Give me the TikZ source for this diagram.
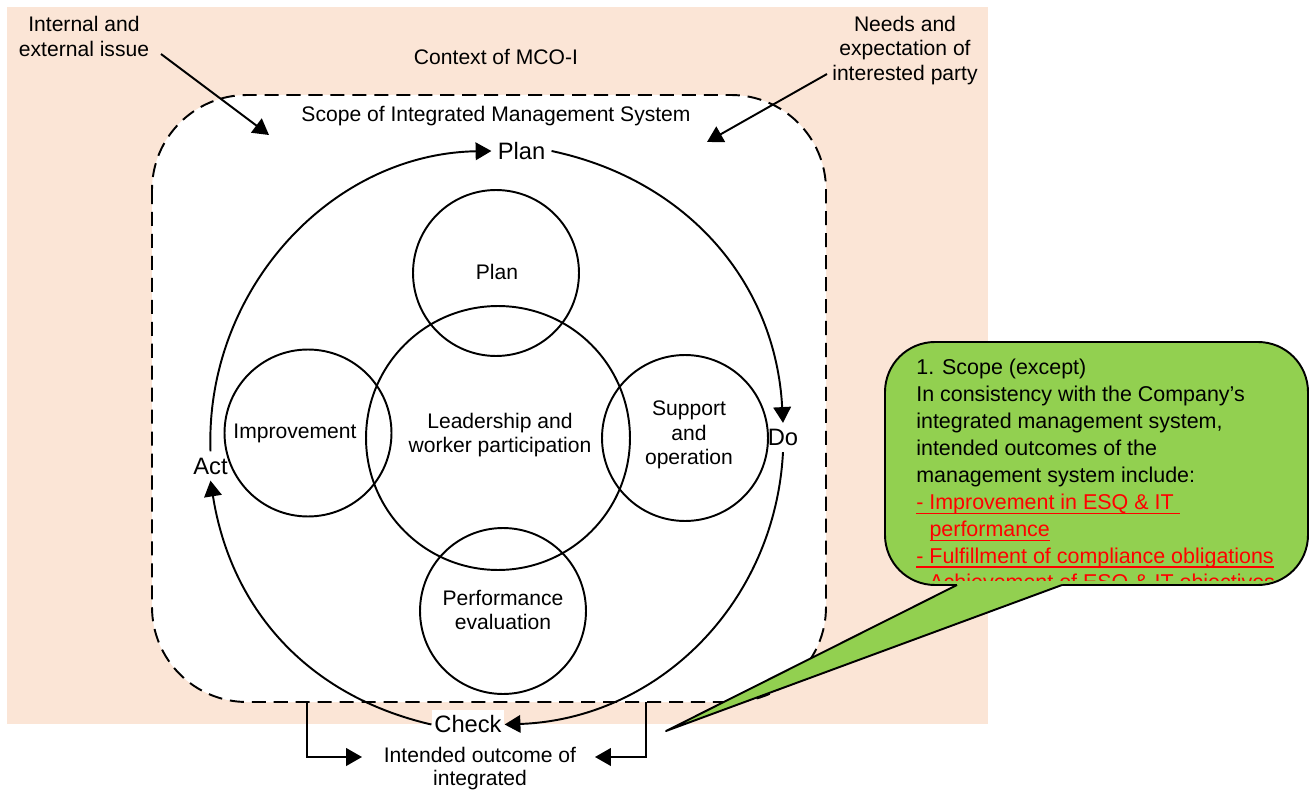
\documentclass[tikz,border=0pt]{standalone}
\usepackage{fontspec}
\setmainfont{Liberation Sans}
\usetikzlibrary{arrows.meta}
\definecolor{peach}{HTML}{FBE5D6}
\definecolor{callgreen}{HTML}{92D050}
\newcommand{\redul}[1]{\setbox0\hbox{#1}\rlap{\rule[-2.8pt]{\wd0}{0.9pt}}\box0}
\begin{document}
\begin{tikzpicture}[x=0.02cm,y=-0.02cm,
  lw/.style={line width=1.1pt},
  ring/.style={draw, circle, line width=1.1pt, inner sep=0pt},
  lbl/.style={font=\fontsize{12}{14}\selectfont, align=center, inner sep=0pt},
  pdca/.style={font=\fontsize{13.5}{15}\selectfont, inner sep=3.4pt},
  arr/.style={line width=1.1pt, -{Triangle[length=9pt,width=10pt]}},
]
\useasboundingbox (0,0) rectangle (1313,794);
% background context
\fill[peach] (7,7) rectangle (988,724);
% scope boundary
\draw[lw, dash pattern=on 8pt off 4.5pt, fill=white, rounded corners=1.9cm] (152,95) rectangle (826,702);

% texts at top
\node[lbl] (intL) at (84,36.5) {Internal and\\external issue};
\node[lbl] (ctxL) at (496,57) {Context of MCO-I};
\node[lbl] (needL) at (905,50.5) {Needs and\\expectation of\\interested party};
\node[lbl] (scopeL) at (496,116) {Scope of Integrated Management System};

% circles
\node[ring, minimum size=3.32cm] (cPlan) at (496,273) {};
\node[ring, minimum size=5.28cm] (cLead) at (498,438) {};
\node[ring, minimum size=3.34cm] (cImp) at (308,433) {};
\node[ring, minimum size=3.32cm] (cSup) at (685,438) {};
\node[ring, minimum size=3.32cm] (cPerf) at (503,611) {};

\node[lbl] (tPlan) at (497,272) {Plan};
\node[lbl] (tLead) at (500,435) {Leadership and\\worker participation};
\node[lbl] (tImp) at (295,433) {Improvement};
\node[lbl] (tSup) at (689,435) {Support\\and\\operation};
\node[lbl] (tPerf) at (503,610) {Performance\\evaluation};

% PDCA labels
\node[pdca] (planL) at (521.5,151) {Plan};
\node[pdca] (doL) at (783,437.5) {Do};
\node[pdca, fill=white, inner xsep=1.5pt, inner ysep=3.4pt] (checkL) at (468,724.5) {Check};
\node[pdca] (actL) at (210.5,466) {Act};

% cycle arcs
\draw[arr] (actL.north) to[out=92,in=181] (planL.west);
\draw[arr] (planL.east) to[out=-12,in=93] (doL.north);
\draw[arr] (doL.south) to[out=-93,in=2] (checkL.east);
\draw[arr] (checkL.west) to[out=167,in=-81] (actL.south);

% context arrows
\coordinate (intS) at (161,54);
\coordinate (intE) at (269,135);
\coordinate (needS) at (827,74);
\coordinate (needE) at (707,142);
\draw[arr] (intS) -- (intE);
\draw[arr] (needS) -- (needE);

% intended outcome
\node[lbl, font=\fontsize{12}{13.3}\selectfont] (outL) at (480,768.5) {Intended outcome of\\integrated};
\coordinate (bl) at (307,702);
\coordinate (br) at (646,702);
\coordinate (ltip) at (362,757);
\coordinate (rtip) at (595,757);
\draw[arr] (bl) |- (ltip);
\draw[arr] (br) |- (rtip);

% callout
\draw[lw, fill=callgreen, rounded corners=1cm] (885,342) rectangle (1308,585);
\fill[callgreen] (957,582) -- (957,585) -- (666,731) -- (1062,585) -- (1062,582) -- cycle;
\draw[lw, line join=round] (957,585) -- (666,731) -- (1062,585);
\begin{scope}
\clip (885,342) rectangle (1308,580);
\node[anchor=north west, inner sep=0pt, align=left, font=\fontsize{12.2}{15.3}\selectfont] (scopeTxt) at (916,359)
{1. Scope (except)\\
In consistency with the Company’s\\
integrated management system,\\
intended outcomes of the\\
management system include:\\
{\color{red}\redul{- Improvement in ESQ \& IT\ }}\\
{\color{red}\hspace*{7.5pt}\redul{performance}}\\
{\color{red}\redul{- Fulfillment of compliance obligations}}\\
{\color{red}\redul{- Achievement of ESQ \& IT objectives}}};
\end{scope}
\end{tikzpicture}
\end{document}
